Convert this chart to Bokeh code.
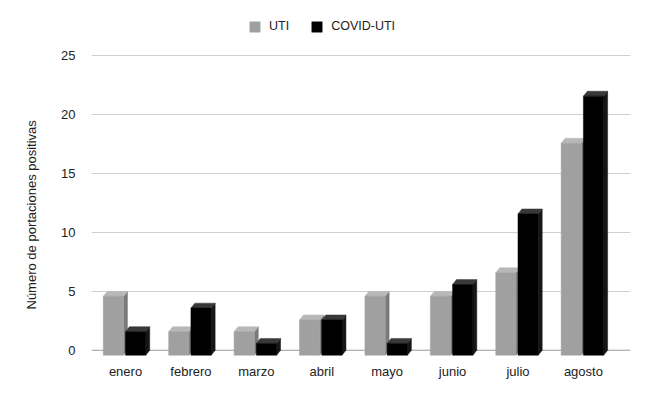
import math
from bokeh.plotting import figure
from bokeh.models import (ColumnDataSource, FixedTicker, Range1d, Span, Legend,
                          LegendItem, Title)
from bokeh.embed import file_html
from bokeh.resources import INLINE

# ---- data ----
months = ["enero", "febrero", "marzo", "abril", "mayo", "junio", "julio", "agosto"]
uti = [5, 2, 2, 3, 5, 5, 7, 18]
covid_uti = [2, 4, 1, 3, 1, 6, 12, 22]
y_ticks = [0, 5, 10, 15, 20, 25]
series_names = ["UTI", "COVID-UTI"]
y_title = "Número de portaciones positivas"

FONT = "Liberation Sans"
TXT = "#222222"
DX = 0.06   # pseudo-3D depth along x (category units)
DY = 0.42   # pseudo-3D depth along y (value units)


def faces(values, left, width):
    fx, fy, tx, ty, sx, sy = [], [], [], [], [], []
    for i, v in enumerate(values):
        xl = i + 0.5 + left
        xr = xl + width
        fx.append([xl, xr, xr, xl]); fy.append([-DY, -DY, v - DY, v - DY])
        tx.append([xl, xr, xr + DX, xl + DX]); ty.append([v - DY, v - DY, v, v])
        sx.append([xr, xr + DX, xr + DX, xr]); sy.append([-DY, 0, v, v - DY])
    return (ColumnDataSource(dict(xs=fx, ys=fy)),
            ColumnDataSource(dict(xs=tx, ys=ty)),
            ColumnDataSource(dict(xs=sx, ys=sy)))


p = figure(width=634, height=384,
           x_range=Range1d(-0.02, 8.22), y_range=Range1d(-0.7, 28.6),
           output_backend="svg", toolbar_location=None,
           min_border_left=91, min_border_right=4,
           min_border_top=13, min_border_bottom=26)
p.outline_line_color = None
p.background_fill_color = "white"

# grid
p.xgrid.visible = False
p.ygrid.ticker = FixedTicker(ticks=[t for t in y_ticks if t > 0])
p.ygrid.grid_line_color = "#cfcfcf"
p.ygrid.grid_line_width = 1
p.add_layout(Span(location=y_ticks[0], dimension="width", line_color="#9a9a9a",
                  line_width=1, level="underlay"))

# bars
styles = [
    (uti, -0.34, 0.31, ("#a0a0a0", "#b8b8b8", "#7a7a7a")),
    (covid_uti, 0.0, 0.31, ("#000000", "#383838", "#161616")),
]
front_renderers = []
for vals, left, width, (cf, ct, cs) in styles:
    f, t, s = faces(vals, left, width)
    p.patches("xs", "ys", source=s, fill_color=cs, line_color=cs, line_width=0.5)
    p.patches("xs", "ys", source=t, fill_color=ct, line_color=ct, line_width=0.5)
    r = p.patches("xs", "ys", source=f, fill_color=cf, line_color=cf, line_width=0.5)
    front_renderers.append(r)

# axes
xa = p.xaxis[0]
xa.ticker = FixedTicker(ticks=[i + 0.5 for i in range(len(months))])
xa.major_label_overrides = {i + 0.5: m for i, m in enumerate(months)}
ya = p.yaxis[0]
ya.ticker = FixedTicker(ticks=y_ticks)
for ax in (xa, ya):
    ax.axis_line_color = None
    ax.major_tick_line_color = None
    ax.minor_tick_line_color = None
    ax.major_tick_out = 0
    ax.major_tick_in = 0
    ax.minor_tick_out = 0
    ax.major_label_text_font = FONT
    ax.major_label_text_font_size = "13px"
    ax.major_label_text_color = TXT
xa.major_label_standoff = 5
ya.major_label_standoff = 16

p.add_layout(Title(text=y_title, align="left", offset=49, standoff=40,
                   text_font=FONT, text_font_size="13px",
                   text_font_style="normal", text_color=TXT), "left")

legend = Legend(items=[LegendItem(label=series_names[0], renderers=[front_renderers[0]]),
                       LegendItem(label=series_names[1], renderers=[front_renderers[1]])],
                orientation="horizontal", location=(157, 325),
                border_line_color=None, background_fill_alpha=0,
                padding=0, margin=0, spacing=21, label_standoff=8,
                glyph_width=13, glyph_height=13, label_height=13,
                label_text_font=FONT, label_text_font_size="12.5px",
                label_text_color=TXT)
p.add_layout(legend)

open("out.html", "w").write(file_html(p, INLINE))
